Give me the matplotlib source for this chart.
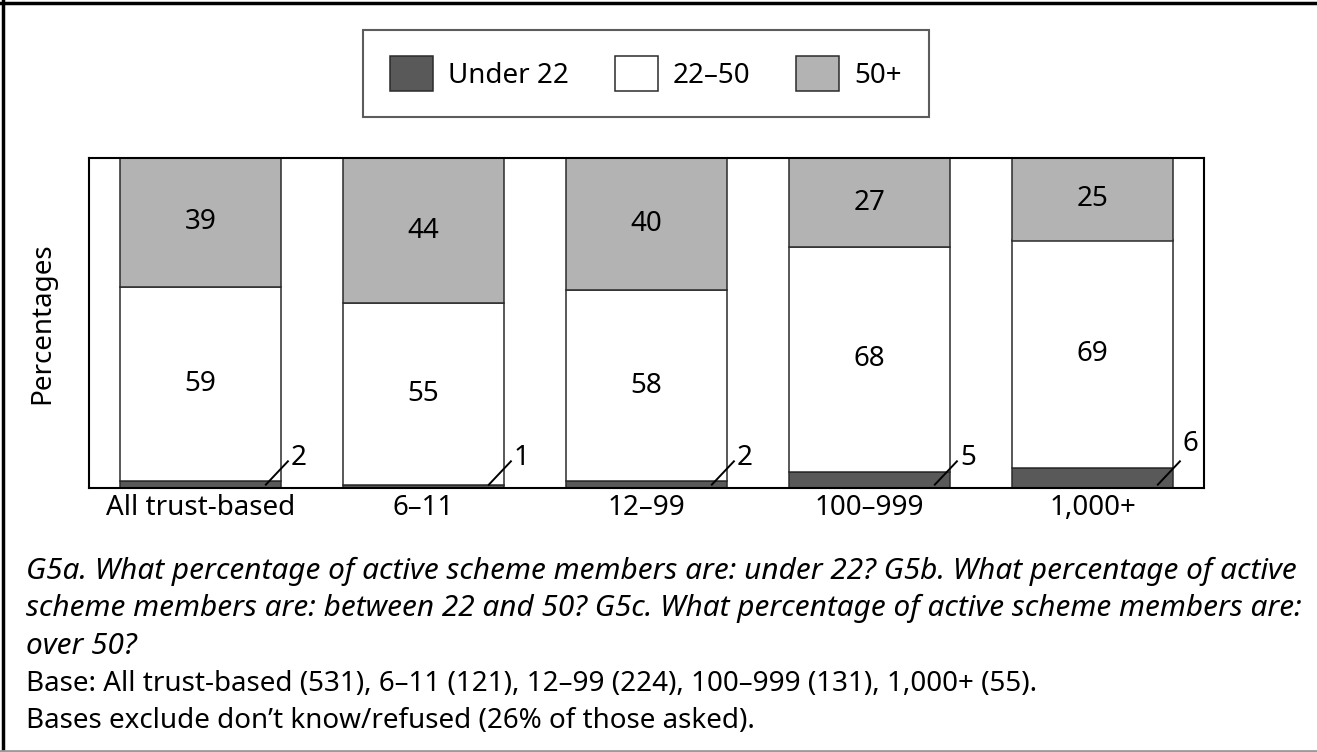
import numpy as np
import matplotlib
matplotlib.use("Agg")
import matplotlib.pyplot as plt
from matplotlib.lines import Line2D

plt.rcParams["font.family"] = ["Noto Sans", "DejaVu Sans"]

# data
groups = ["All trust-based", "6\u201311", "12\u201399", "100\u2013999", "1,000+"]
under22 = [2, 1, 2, 5, 6]
mid = [59, 55, 58, 68, 69]
over50 = [39, 44, 40, 27, 25]
series_names = ["Under 22", "22\u201350", "50+"]
colours = ["#595959", "#ffffff", "#b3b3b3"]

caption_lines = [
    "G5a. What percentage of active scheme members are: under 22? G5b. What percentage of active",
    "scheme members are: between 22 and 50? G5c. What percentage of active scheme members are:",
    "over 50?",
]
base_lines = [
    "Base: All trust-based (531), 6\u201311 (121), 12\u201399 (224), 100\u2013999 (131), 1,000+ (55).",
    "Bases exclude don\u2019t know/refused (26% of those asked).",
]

W, H = 1317, 752
FS = 20
fig = plt.figure(figsize=(W / 100, H / 100), dpi=100)
ax = fig.add_axes([89 / W, 1 - 488 / H, (1204 - 89) / W, (488 - 158) / H])

x = np.arange(len(groups))
bw = 0.72
edge = "#2b2b2b"
b1 = ax.bar(x, under22, bw, color=colours[0], edgecolor=edge, lw=1.1, label=series_names[0])
b2 = ax.bar(x, mid, bw, bottom=under22, color=colours[1], edgecolor=edge, lw=1.1, label=series_names[1])
bot3 = np.array(under22) + np.array(mid)
b3 = ax.bar(x, over50, bw, bottom=bot3, color=colours[2], edgecolor=edge, lw=1.1, label=series_names[2])

for i in range(len(groups)):
    ax.text(x[i], under22[i] + mid[i] / 2, str(mid[i]), ha="center", va="center", fontsize=FS)
    ax.text(x[i], bot3[i] + over50[i] / 2, str(over50[i]), ha="center", va="center", fontsize=FS)
    # thin under-22 slice: leader line, value outside the bar
    x0, x1 = x[i] + 0.29, x[i] + 0.395
    ax.plot([x0, x1], [0.8, 8.3], color="black", lw=1.4, clip_on=False, solid_capstyle="butt")
    if i == len(groups) - 1:
        ax.text(x[i] + 0.44, 13.3, str(under22[i]), ha="center", va="center", fontsize=FS)
    else:
        ax.text(x1 + 0.01, 9.2, str(under22[i]), ha="left", va="center", fontsize=FS)

ax.set_xlim(-0.5, 4.5)
ax.set_ylim(0, 100)
ax.set_yticks([])
ax.set_xticks(x)
ax.set_xticklabels(groups, fontsize=FS)
ax.tick_params(axis="x", length=0, pad=4)
for s in ax.spines.values():
    s.set_linewidth(1.5)
    s.set_color("black")
ax.set_ylabel("Percentages", fontsize=FS)
ax.yaxis.set_label_coords(-0.029, 0.5)

leg = fig.legend(handles=[b1, b2, b3], labels=series_names, loc="center",
                 bbox_to_anchor=(646 / W, 1 - 73.5 / H), ncol=3, fontsize=FS,
                 fancybox=False, edgecolor="#333333", handlelength=1.55, handleheight=1.55,
                 handletextpad=0.55, columnspacing=1.65, borderpad=0.95, borderaxespad=0)
leg.get_frame().set_linewidth(1.5)

# question text and base notes, one baseline per line
for k, line in enumerate(caption_lines):
    fig.text(26 / W, 1 - (579 + 37.3 * k) / H, line, ha="left", va="baseline",
             fontsize=21.4, style="italic")
for k, line in enumerate(base_lines):
    fig.text(26 / W, 1 - (691 + 37 * k) / H, line, ha="left", va="baseline", fontsize=20)

# outer frame (left, top dark; bottom light)
fig.add_artist(Line2D([2.5 / W, 2.5 / W], [0, 1], transform=fig.transFigure, color="black", lw=2.5))
fig.add_artist(Line2D([0, 1], [1 - 2.5 / H, 1 - 2.5 / H], transform=fig.transFigure, color="black", lw=2.5))
fig.add_artist(Line2D([0, 1], [1.5 / H, 1.5 / H], transform=fig.transFigure, color="#9a9a9a", lw=2))

fig.savefig("out.png", dpi=100)
